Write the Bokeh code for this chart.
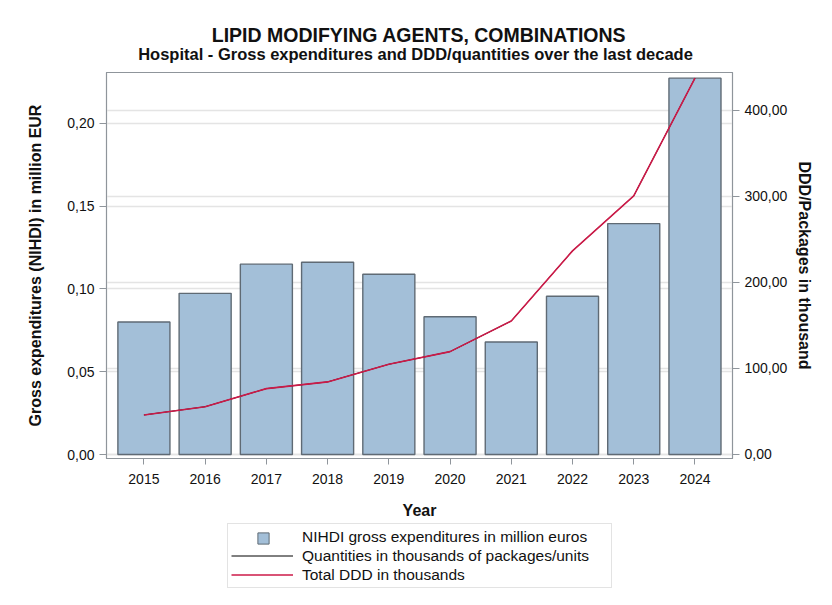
from bokeh.plotting import figure
from bokeh.layouts import column
from bokeh.models import (Range1d, LinearAxis, FixedTicker, CustomJSTickFormatter,
                          Grid, Label, Legend, LegendItem, ColumnDataSource)
from bokeh.embed import file_html
from bokeh.resources import INLINE

# ---- data ----
years = [2015, 2016, 2017, 2018, 2019, 2020, 2021, 2022, 2023, 2024]
expenditures = [0.0800, 0.0973, 0.1149, 0.1161, 0.1088, 0.0832, 0.0679, 0.0955, 0.1394, 0.2272]
ddd_thousands = [45.9, 55.5, 76.5, 84.3, 104.8, 119.5, 155.1, 236.5, 300.4, 437.2]
quantities_thousands = [45.9, 55.5, 76.5, 84.3, 104.8, 119.5, 155.1, 236.5, 300.4, 437.2]
left_ticks = [0.0, 0.05, 0.10, 0.15, 0.20]
right_ticks = [0, 100, 200, 300, 400]

title_text = "LIPID MODIFYING AGENTS, COMBINATIONS"
subtitle_text = "Hospital - Gross expenditures and DDD/quantities over the last decade"
right_axis_title = "DDD/Packages in thousand"
legend_labels = ["NIHDI gross expenditures in million euros",
                 "Quantities in thousands of packages/units",
                 "Total DDD in thousands"]

FONT = "Liberation Sans"
BAR_FILL = "#a3bfd8"
BAR_LINE = "#5f6a74"
RED = "#cc1a48"
GRAY = "#8f959b"
GRID = "#e4e4e4"
TXT = "#111111"

W = 816
FRAME_L, FRAME_R = 106, 732
H_TOP = 72
H_MAIN = 451
H_LEG = 66
X0, X1 = 2015 - 0.611, 2024 + 0.613
Y0, Y1 = -0.0024, 0.2306

src = ColumnDataSource(dict(year=years, exp=expenditures, ddd=ddd_thousands, qty=quantities_thousands))


def bare(fig):
    fig.min_border_left = 0
    fig.min_border_right = 0
    fig.min_border_top = 0
    fig.min_border_bottom = 0
    fig.outline_line_color = None
    fig.xgrid.visible = False
    fig.ygrid.visible = False
    fig.background_fill_color = "white"
    fig.border_fill_color = "white"


# ---- title strip ----
pt = figure(width=W, height=H_TOP, output_backend="svg", toolbar_location=None, title=None,
            x_range=Range1d(FRAME_L, FRAME_R), y_range=Range1d(H_TOP, 0),
            x_axis_location=None, y_axis_location=None)
bare(pt)
pt.add_layout(Label(x=418.5, y=34, text=title_text, text_align="center", text_baseline="middle",
                    text_font=FONT, text_font_size="19.5px", text_font_style="bold", text_color=TXT))
pt.add_layout(Label(x=415, y=53, text=subtitle_text, text_align="center", text_baseline="middle",
                    text_font=FONT, text_font_size="16.5px", text_font_style="bold", text_color=TXT))

# ---- main chart ----
p = figure(width=W, height=H_MAIN, output_backend="svg", toolbar_location=None,
           title=None, x_range=Range1d(X0, X1), y_range=Range1d(Y0, Y1))
p.min_border_left = FRAME_L
p.min_border_right = W - FRAME_R
p.min_border_top = 0
p.min_border_bottom = 65
p.background_fill_color = "white"
p.border_fill_color = "white"
p.outline_line_color = GRAY
p.outline_line_width = 1.2

p.extra_y_ranges = {"ddd": Range1d(-4.65, 443.7)}

p.vbar(x="year", top="exp", width=0.85, bottom=0, source=src,
       fill_color=BAR_FILL, line_color=BAR_LINE, line_width=1.4)
p.line(x="year", y="qty", source=src, y_range_name="ddd", line_color="black", line_width=1)
p.line(x="year", y="ddd", source=src, y_range_name="ddd", line_color=RED, line_width=1.6)

xa = p.xaxis[0]
xa.ticker = FixedTicker(ticks=years)
xa.axis_label = "Year"

ya = p.yaxis[0]
ya.ticker = FixedTicker(ticks=left_ticks)
ya.formatter = CustomJSTickFormatter(code="return tick.toFixed(2).replace('.', ',');")
ya.axis_label = "Gross expenditures (NIHDI) in million EUR"

ra = LinearAxis(y_range_name="ddd", ticker=FixedTicker(ticks=right_ticks),
                formatter=CustomJSTickFormatter(code="return tick.toFixed(2).replace('.', ',');"),
                axis_label=right_axis_title)
p.add_layout(ra, "right")

for ax in (xa, ya, ra):
    ax.axis_line_color = GRAY
    ax.major_tick_line_color = GRAY
    ax.minor_tick_line_color = None
    ax.major_tick_in = 0
    ax.major_tick_out = 7
    ax.major_label_text_font = FONT
    ax.major_label_text_font_size = "14px"
    ax.major_label_text_color = TXT
    ax.axis_label_text_font = FONT
    ax.axis_label_text_font_size = "16px"
    ax.axis_label_text_font_style = "bold"
    ax.axis_label_text_color = TXT

xa.major_tick_out = 6
xa.major_label_standoff = 9
xa.axis_label_standoff = 15
ya.major_label_standoff = 5
ya.axis_label_standoff = 20
ra.major_label_standoff = 5
ra.axis_label_standoff = 6
ra.axis_label_orientation = "parallel"

p.xgrid.visible = False
p.ygrid[0].ticker = ya.ticker
p.ygrid[0].grid_line_color = GRID
p.ygrid[0].grid_line_width = 1.5
p.add_layout(Grid(dimension=1, ticker=ra.ticker, y_range_name="ddd",
                  grid_line_color=GRID, grid_line_width=1.5))

# ---- legend strip (its glyphs lie outside its own view) ----
pl = figure(width=W, height=H_LEG, output_backend="svg", toolbar_location=None, title=None,
            x_range=Range1d(0, 1), y_range=Range1d(0, 1),
            x_axis_location=None, y_axis_location=None)
bare(pl)

r_blank = pl.scatter(x="year", y="exp", source=src, marker="square", size=1,
                     fill_alpha=0, line_alpha=0)
r_sq = pl.scatter(x="year", y="exp", source=src, marker="square", size=11,
                  fill_color=BAR_FILL, line_color=BAR_LINE)
r_qty = pl.line(x="year", y="qty", source=src, line_color="black", line_width=1)
r_ddd = pl.line(x="year", y="ddd", source=src, line_color=RED, line_width=1.6)

legend = Legend(items=[LegendItem(label=legend_labels[0], renderers=[r_blank], index=0),
                       LegendItem(label=legend_labels[1], renderers=[r_qty]),
                       LegendItem(label=legend_labels[2], renderers=[r_ddd])],
                location=(121, 1), orientation="vertical",
                glyph_width=62, glyph_height=19, label_height=19, label_width=306,
                spacing=0, padding=3,
                label_standoff=9, label_text_font=FONT, label_text_font_size="15.5px",
                label_text_color=TXT, border_line_color="#c8c8c8", border_line_width=1,
                background_fill_color="white", background_fill_alpha=1, margin=0)
pl.add_layout(legend, "center")

legend_sq = Legend(items=[LegendItem(label=" ", renderers=[r_sq], index=0)],
                   location=(143, 37.5), orientation="vertical",
                   glyph_width=28, glyph_height=28, label_height=1, label_width=1,
                   spacing=0, padding=0, label_standoff=0,
                   label_text_font_size="1px", border_line_color=None,
                   background_fill_alpha=0, margin=0)
pl.add_layout(legend_sq, "center")

layout = column(pt, p, pl, spacing=0)
open("out.html", "w").write(file_html(layout, INLINE))
